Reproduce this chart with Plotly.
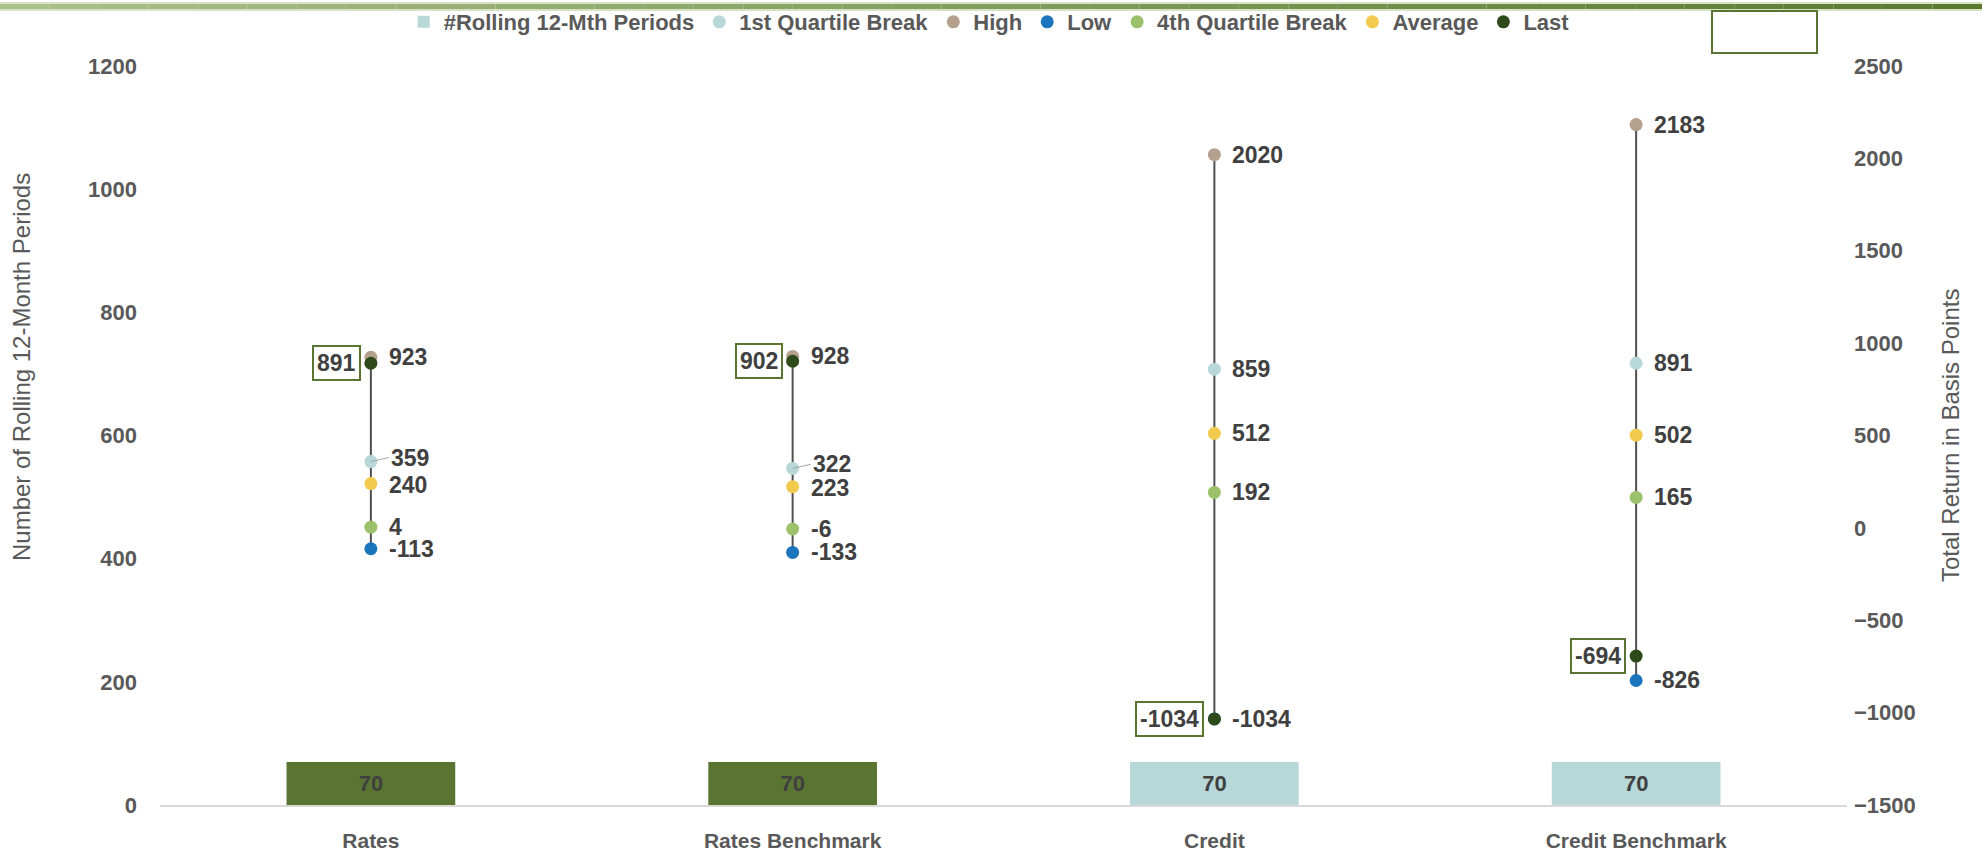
import plotly.graph_objects as go

categories = ["Rates", "Rates Benchmark", "Credit", "Credit Benchmark"]
periods = [70, 70, 70, 70]
q1 = [359, 322, 859, 891]
high = [923, 928, 2020, 2183]
low = [-113, -133, -1034, -826]
q4 = [4, -6, 192, 165]
avg = [240, 223, 512, 502]
last = [891, 902, -1034, -694]

left_ticks = [0, 200, 400, 600, 800, 1000, 1200]
right_ticks = [-1500, -1000, -500, 0, 500, 1000, 1500, 2000, 2500]

GREEN = "#5A7532"
TEAL = "#B7D7D8"
TXT = "#404040"
GRAY = "#595959"
NARROW = "Liberation Sans Narrow, Arial Narrow, Liberation Sans, Arial"
WIDE = "Liberation Sans, Arial"

W, H = 1982, 851
ML, MR, MT, MB = 160, 135, 66, 46
PW, PH = W - ML - MR, H - MT - MB


def ypx(py):
    return (H - MB - py) / PH


def xpx(px):
    return (px - ML) / PW


fig = go.Figure()

# bars (left axis)
bar_font = dict(family=NARROW, size=22, color=TXT, weight="bold")
fig.add_trace(go.Bar(
    x=categories[:2], y=periods[:2], marker_color=GREEN, width=0.4,
    showlegend=False, legendgroup="bars",
    text=periods[:2], textposition="inside", insidetextanchor="middle",
    textfont=bar_font, marker_line_width=0, cliponaxis=False, yaxis="y"))
fig.add_trace(go.Bar(
    x=categories[2:], y=periods[2:], marker_color=TEAL, width=0.4,
    name="#Rolling 12-Mth Periods", legendgroup="bars",
    text=periods[2:], textposition="inside", insidetextanchor="middle",
    textfont=bar_font, marker_line_width=0, cliponaxis=False, yaxis="y"))

# high-low lines (right axis)
lx, ly = [], []
for c, h, l in zip(categories, high, low):
    lx += [c, c, None]
    ly += [l, h, None]
fig.add_trace(go.Scatter(x=lx, y=ly, mode="lines", yaxis="y2",
                         line=dict(color="#505050", width=2),
                         showlegend=False, hoverinfo="skip"))

series = [
    ("1st Quartile Break", q1, "#B7D7D8"),
    ("High", high, "#B5A08E"),
    ("Low", low, "#1B75BC"),
    ("4th Quartile Break", q4, "#9BC16A"),
    ("Average", avg, "#F2CB4E"),
    ("Last", last, "#2F4A1A"),
]
for name, vals, col in series:
    fig.add_trace(go.Scatter(x=categories, y=vals, mode="markers", name=name,
                             yaxis="y2", cliponaxis=False,
                             marker=dict(color=col, size=13)))

annotations = []
lab_font = dict(family=NARROW, size=23, color=TXT, weight="bold")
for key, vals in (("high", high), ("q1", q1), ("avg", avg), ("q4", q4), ("low", low)):
    for i, (c, v) in enumerate(zip(categories, vals)):
        if key == "q1" and i < 2:
            # label nudged up with a small leader line, as in the reference
            annotations.append(dict(x=c, y=v, xref="x", yref="y2", text=str(v),
                                    showarrow=True, arrowhead=0, arrowwidth=1,
                                    arrowcolor="#A6A6A6", ax=18, ay=-4,
                                    xanchor="left", font=lab_font))
            continue
        yshift = 0
        if key == "avg" and i < 2:
            yshift = -1
        annotations.append(dict(x=c, y=v, xref="x", yref="y2", text=str(v),
                                showarrow=False, xanchor="left", xshift=16,
                                yshift=yshift, font=lab_font))
for c, v in zip(categories, last):
    annotations.append(dict(x=c, y=v, xref="x", yref="y2", text=str(v),
                            showarrow=False, xanchor="right", xshift=-10,
                            font=lab_font, bordercolor=GREEN, borderwidth=2,
                            borderpad=3, bgcolor="white"))

# axis titles as annotations
annotations.append(dict(xref="paper", yref="paper", x=xpx(21), y=ypx(367),
                        text="Number of Rolling 12-Month Periods", textangle=-90,
                        showarrow=False, xanchor="center", yanchor="middle",
                        font=dict(family=NARROW, size=24, color=GRAY)))
annotations.append(dict(xref="paper", yref="paper", x=xpx(1950), y=ypx(436),
                        text="Total Return in Basis Points", textangle=-90,
                        showarrow=False, xanchor="center", yanchor="middle",
                        font=dict(family=NARROW, size=24, color=GRAY)))

shapes = []
# top gradient band
x0p = xpx(0)
x1p = xpx(W)
nseg = 40
c0 = (0xA9, 0xC0, 0x8A)
c1 = (0x5B, 0x7A, 0x30)
for i in range(nseg):
    t = i / (nseg - 1)
    col = "rgb(%d,%d,%d)" % tuple(int(a + (b - a) * t) for a, b in zip(c0, c1))
    xa = x0p + (x1p - x0p) * i / nseg
    xb = x0p + (x1p - x0p) * (i + 1) / nseg
    shapes.append(dict(type="rect", xref="paper", yref="paper",
                       x0=xa, x1=xb, y0=ypx(9), y1=ypx(4),
                       fillcolor=col, line_width=0, layer="above"))
shapes.append(dict(type="rect", xref="paper", yref="paper", x0=x0p, x1=x1p,
                   y0=ypx(11), y1=ypx(9), fillcolor="#D5E2C3", line_width=0))
shapes.append(dict(type="rect", xref="paper", yref="paper", x0=x0p, x1=x1p,
                   y0=ypx(4), y1=ypx(2), fillcolor="#D5E2C3", line_width=0))
# empty box top right
shapes.append(dict(type="rect", xref="paper", yref="paper",
                   x0=xpx(1712), x1=xpx(1817),
                   y0=ypx(53), y1=ypx(11), line=dict(color=GREEN, width=2),
                   fillcolor="rgba(0,0,0,0)"))

fig.update_layout(
    width=W, height=H,
    margin=dict(l=ML, r=MR, t=MT, b=MB, autoexpand=False),
    paper_bgcolor="white", plot_bgcolor="white",
    barmode="overlay",
    showlegend=True,
    legend=dict(orientation="h", x=0.4915, xanchor="center", y=ypx(1),
                yanchor="top", font=dict(family=NARROW, size=22, color=GRAY,
                                         weight="bold"),
                bgcolor="rgba(0,0,0,0)", traceorder="normal"),
    xaxis=dict(type="category", categoryarray=categories, showgrid=False,
               showline=True, linecolor="#D9D9D9", linewidth=2, ticks="",
               tickfont=dict(family=NARROW, size=21, color=GRAY, weight="bold"),
               ticklabelstandoff=16, zeroline=False),
    yaxis=dict(range=[0, 1200], tickvals=left_ticks, showgrid=False,
               zeroline=False, showline=False, ticks="",
               tickfont=dict(family=WIDE, size=22, color=GRAY, weight="bold"),
               ticklabelstandoff=22),
    yaxis2=dict(range=[-1500, 2500], tickvals=right_ticks, overlaying="y",
                side="right", showgrid=False, zeroline=False, showline=False,
                ticks="", ticklabelstandoff=6,
                tickfont=dict(family=WIDE, size=22, color=GRAY, weight="bold")),
    annotations=annotations,
    shapes=shapes,
)

fig.write_html("out.html")
